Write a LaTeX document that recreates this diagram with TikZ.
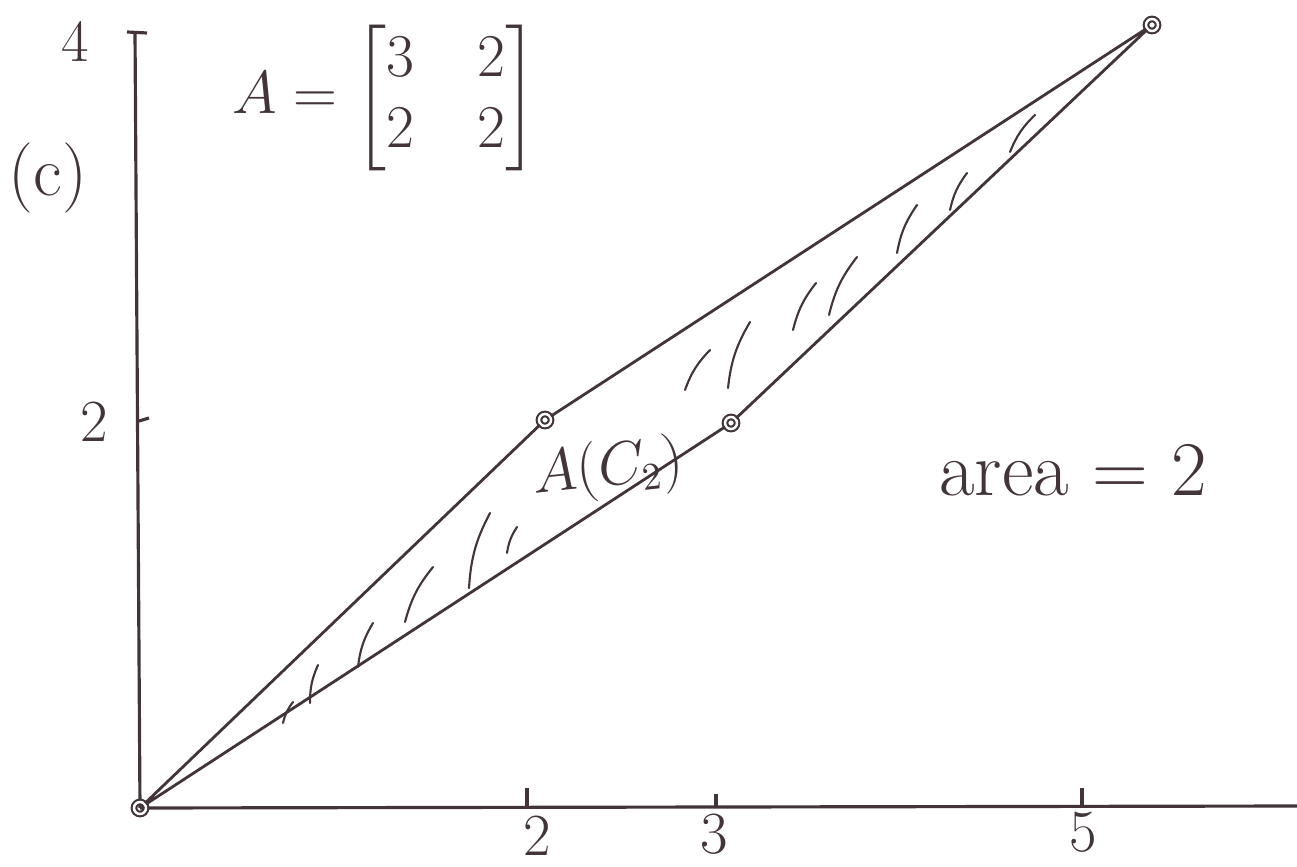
\documentclass[tikz,border=0pt]{standalone}
\usepackage{amsmath}
\usetikzlibrary{calc}
\definecolor{ink}{RGB}{66,52,58}
\tikzset{
  axisline/.style={draw=ink, line width=0.9pt},
  edgeline/.style={draw=ink, line width=0.8pt},
  hatch/.style={draw=ink, line width=0.6pt, line cap=round},
  vertex/.style={circle, draw=ink, line width=0.6pt, double=white, double distance=0.7pt, inner sep=0pt, minimum size=0.12cm},
  hand/.style={text=ink, inner sep=0pt, font=\fontsize{17}{20}\selectfont},
}

\begin{document}
\begin{tikzpicture}[x=0.01cm, y=-0.01cm]
    \useasboundingbox (0,0) rectangle (1297,867);
    % axes
    \coordinate (O) at (140,808);
    \coordinate (ytop) at (135,32);
    \coordinate (xend) at (1297,806);
    \draw[axisline] (O) -- (ytop);
    \draw[axisline] (127,32) -- (147,33);
    \draw[axisline] (O) -- (xend);
    % ticks
    \foreach \x/\h in {527/18, 716/12, 1082/18} {
        \draw[axisline] (\x,806) -- (\x,806-\h);
    }
    \draw[axisline] (139,421) -- (149,418);
    % tick labels
    \node[hand] (ylab4) at (75,42) {4};
    \node[hand] (ylab2) at (94,422) {2};
    \node[hand] (xlab2) at (537,836) {2};
    \node[hand] (xlab3) at (714,834) {3};
    \node[hand] (xlab5) at (1083,832) {5};
    \node[hand, font=\fontsize{20}{24}\selectfont] (part) at (48,178) {(c)};
    % vertices
    \node[vertex] (o) at (O) {};
    \node[vertex] (p) at (545,420) {};
    \node[vertex] (q) at (731,423) {};
    \node[vertex] (r) at (1152,25) {};
    % parallelogram
    \draw[edgeline] (o) -- (p) -- (r) -- (q) -- (o);
    % hatching
    \foreach \ax/\ay/\bx/\by in {283/723/293/702, 310/703/318/665, 358/667/373/623,
        405/622/433/567, 469/588/490/513, 507/553/517/527, 685/390/710/350,
        728/388/750/322, 793/330/816/283, 829/315/857/257, 897/253/917/205,
        950/210/967/173, 1010/152/1035/115} {
        \draw[hatch] (\ax,\ay) to[bend left=12] (\bx,\by);
    }
    % labels
    \node[hand, font=\fontsize{17}{20}\selectfont] (matA) at (385,98)
        {$A=\setlength{\arraycolsep}{9pt}\begin{bmatrix}3&2\\2&2\end{bmatrix}$};
    \node[hand, font=\fontsize{16}{19}\selectfont, rotate=6] (image) at (608,470) {$A(C_2)$};
    \node[hand, font=\fontsize{22}{26}\selectfont] (area) at (1073,470) {area = 2};
\end{tikzpicture}
\end{document}
